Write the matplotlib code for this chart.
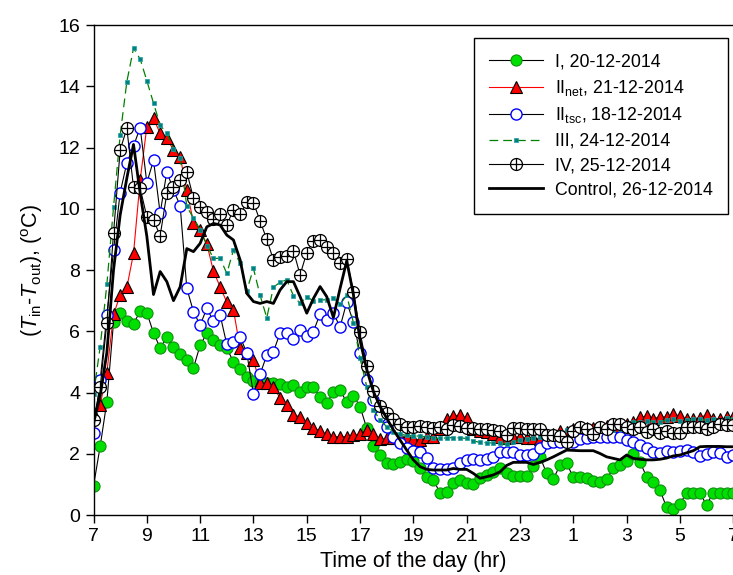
import numpy as np
import matplotlib
matplotlib.use("Agg")
import matplotlib.pyplot as plt
from matplotlib.path import Path

plt.rcParams['font.family'] = ['Liberation Sans', 'DejaVu Sans']
plt.rcParams['mathtext.fontset'] = 'custom'
plt.rcParams['mathtext.rm'] = 'Liberation Sans'
plt.rcParams['mathtext.it'] = 'Liberation Sans:italic'

# time of day (hours since midnight of first day), 15-min sampling
hours = np.arange(7, 31.01, 0.25)

series_I = [
    0.95, 2.25, 3.7, 6.3,
    6.6, 6.35, 6.25, 6.65,
    6.6, 5.95, 5.45, 5.8,
    5.5, 5.25, 5.05, 4.8,
    5.55, 5.93, 5.72, 5.55,
    5.45, 5.0, 4.78, 4.5,
    4.38, 4.3, 4.3, 4.3,
    4.28, 4.19, 4.24, 4.03,
    4.17, 4.17, 3.86, 3.65,
    4.03, 4.08, 3.68, 3.9,
    3.54, 2.83, 2.25, 1.96,
    1.69, 1.67, 1.74, 1.82,
    1.75, 1.52, 1.23, 1.15,
    0.72, 0.76, 1.03, 1.14,
    1.03, 1.01, 1.2, 1.31,
    1.41, 1.52, 1.36, 1.27,
    1.27, 1.27, 1.6, 1.9,
    1.36, 1.17, 1.63, 1.69,
    1.23, 1.25, 1.2, 1.12,
    1.09, 1.18, 1.52, 1.63,
    1.77, 1.99, 1.74, 1.25,
    1.09, 0.82, 0.25, 0.19,
    0.36, 0.73, 0.71, 0.71,
    0.33, 0.73, 0.71, 0.71,
    0.71]

series_II_net = [
    3.3, 3.6, 4.65, 6.55,
    7.18, 7.43, 8.54, 10.94,
    12.68, 12.95, 12.46, 12.3,
    11.92, 11.7, 10.6, 9.55,
    9.3, 8.85, 7.96, 7.45,
    6.95, 6.7, 5.44, 5.28,
    5.05, 4.3, 4.32, 4.18,
    3.82, 3.59, 3.27, 3.21,
    3.0, 2.85, 2.74, 2.63,
    2.56, 2.56, 2.56, 2.6,
    2.64, 2.76, 2.64, 2.47,
    2.5, 2.52, 2.55, 2.54,
    2.47, 2.45, 2.56, 2.56,
    2.8, 3.12, 3.23, 3.27,
    3.16, 2.8, 2.75, 2.7,
    2.65, 2.55, 2.5, 2.54,
    2.56, 2.5, 2.5, 2.47,
    2.55, 2.65, 2.75, 2.72,
    2.8, 2.85, 2.85, 2.85,
    2.88, 2.9, 2.9, 2.92,
    2.98, 3.05, 3.19, 3.23,
    3.15, 3.21, 3.2, 3.3,
    3.23, 3.14, 3.15, 3.18,
    3.27, 3.15, 3.12, 3.19,
    3.2]

series_II_tsc = [
    2.67, 4.41, 6.53, 8.64,
    10.53, 11.5, 12.05, 12.65,
    10.85, 11.58, 9.85, 11.21,
    10.61, 10.1, 7.4, 6.64,
    6.2, 6.75, 6.33, 6.53,
    5.57, 5.66, 5.82, 5.29,
    3.96, 4.6, 5.22, 5.33,
    5.95, 5.94, 5.76, 6.05,
    5.86, 5.99, 6.57, 6.38,
    6.59, 6.14, 6.95, 6.3,
    5.28, 4.42, 3.74, 3.24,
    2.86, 2.56, 2.34, 2.2,
    2.1, 2.05, 1.85, 1.55,
    1.5, 1.5, 1.55, 1.7,
    1.8, 1.82, 1.8, 1.82,
    1.9, 2.05, 2.07, 2.05,
    1.97, 1.97, 1.99, 2.18,
    2.36, 2.39, 2.4, 2.37,
    2.39, 2.47, 2.5, 2.54,
    2.55, 2.54, 2.56, 2.54,
    2.45, 2.39, 2.29, 2.18,
    2.07, 2.03, 2.1, 2.07,
    2.1, 2.12, 2.07, 1.93,
    2.0, 2.05, 2.01, 1.88,
    1.95]

series_III = [
    3.94, 5.5, 7.53, 10.05,
    12.41, 14.15, 15.24, 14.89,
    14.18, 13.45, 12.73, 12.47,
    11.95, 11.67, 10.08, 9.69,
    9.32, 8.8, 8.38, 8.38,
    7.89, 8.65, 8.22, 7.33,
    8.05, 7.17, 6.44, 7.44,
    7.6, 7.68, 7.16, 6.91,
    7.13, 6.99, 7.02, 7.03,
    7.1, 6.88, 7.18, 6.28,
    5.12, 4.19, 3.43, 3.11,
    2.88, 2.72, 2.64, 2.6,
    2.58, 2.58, 2.55, 2.52,
    2.5, 2.52, 2.53, 2.52,
    2.5, 2.42, 2.37, 2.36,
    2.35, 2.34, 2.32, 2.38,
    2.45, 2.48, 2.5, 2.55,
    2.6, 2.65, 2.7, 2.78,
    2.78, 2.78, 2.8, 2.8,
    2.78, 2.78, 2.78, 2.82,
    2.95, 3.05, 3.05, 3.08,
    3.05, 3.05, 3.1, 3.12,
    3.08, 3.1, 3.12, 3.12,
    3.1, 3.12, 3.1, 3.16,
    3.15]

series_IV = [
    3.1, 4.17, 6.28, 9.2,
    11.92, 12.63, 10.7, 10.67,
    9.74, 9.63, 9.12, 10.5,
    10.7, 10.93, 11.2, 10.34,
    10.06, 9.88, 9.66, 9.82,
    9.48, 9.96, 9.82, 10.21,
    10.2, 9.6, 9.0, 8.33,
    8.42, 8.46, 8.63, 7.84,
    8.57, 8.96, 8.98, 8.74,
    8.54, 8.22, 8.36, 7.29,
    5.97, 4.88, 4.05, 3.55,
    3.32, 3.12, 2.97, 2.88,
    2.86, 2.91, 2.86, 2.83,
    2.86, 2.82, 2.93, 2.9,
    2.85, 2.83, 2.82, 2.8,
    2.78, 2.75, 2.62, 2.85,
    2.85, 2.82, 2.8, 2.8,
    2.62, 2.6, 2.58, 2.39,
    2.75, 2.88, 2.82, 2.64,
    2.88, 2.82, 2.97, 2.97,
    2.88, 2.82, 2.88, 2.72,
    2.8, 2.69, 2.75, 2.67,
    2.69, 2.88, 2.88, 2.88,
    2.82, 2.86, 2.97, 2.94,
    2.95]

series_control = [
    3.0, 3.9, 5.3, 8.0,
    9.8, 11.0, 12.1, 10.5,
    9.1, 7.2, 7.95, 7.62,
    7.0, 7.45, 8.7, 8.6,
    8.87, 9.41, 9.52, 9.47,
    9.14, 8.98, 8.33, 7.24,
    6.97, 6.91, 6.97, 6.91,
    7.35, 7.62, 7.62, 7.13,
    6.59, 7.07, 7.46, 7.13,
    6.45, 7.4, 8.3, 7.2,
    5.7, 4.75, 4.03, 3.55,
    3.16, 2.78, 2.45, 2.12,
    1.8, 1.58, 1.49, 1.47,
    1.47, 1.47, 1.52, 1.49,
    1.49, 1.36, 1.2, 1.25,
    1.31, 1.41, 1.62, 1.72,
    1.72, 1.72, 1.65, 1.72,
    1.8, 1.9, 2.01, 2.12,
    2.11, 2.1, 2.1, 2.1,
    2.01, 1.9, 1.85, 1.8,
    1.96, 1.85, 1.82, 1.8,
    1.8, 1.82, 1.86, 1.93,
    1.96, 2.03, 2.1, 2.23,
    2.24, 2.24, 2.24, 2.23,
    2.23]

labels = ["I, 20-12-2014",
          r"II$_{\rm net}$, 21-12-2014",
          r"II$_{\rm tsc}$, 18-12-2014",
          "III, 24-12-2014",
          "IV, 25-12-2014",
          "Control, 26-12-2014"]

xtick_pos = [7, 9, 11, 13, 15, 17, 19, 21, 23, 25, 27, 29, 31]
xtick_labels = ["7", "9", "11", "13", "15", "17", "19", "21", "23", "1", "3", "5", "7"]

# circle-with-plus marker
circle = Path.unit_circle()
cross = Path([[-1, 0], [1, 0], [0, -1], [0, 1]],
             [Path.MOVETO, Path.LINETO, Path.MOVETO, Path.LINETO])
oplus = Path.make_compound_path(circle, cross)

fig = plt.figure(figsize=(7.33, 5.75), dpi=100)
ax = fig.add_axes([0.1276, 0.1043, 0.8727, 0.8522])

ax.plot(hours, series_I, color='black', lw=0.8, marker='o', ms=8,
        mfc='#00e000', mec='#109010', mew=0.8, label=labels[0])
ax.plot(hours, series_II_net, color='#ff0000', lw=0.8, marker='^', ms=8.2,
        mfc='#ff0000', mec='black', mew=0.8, label=labels[1])
ax.plot(hours, series_II_tsc, color='black', lw=0.8, marker='o', ms=8,
        mfc='white', mec='#0000ff', mew=1.0, label=labels[2])
ax.plot(hours, series_III, color='#008000', lw=0.9, ls=(0, (7, 4)), marker='s', ms=3.4,
        mfc='#008080', mec='#20a0a0', mew=0.5, label=labels[3])
ax.plot(hours, series_IV, color='black', lw=0.8, marker=oplus, ms=8.6,
        mfc='white', mec='black', mew=0.9, label=labels[4])
ax.plot(hours, series_control, color='black', lw=2.0, label=labels[5])

ax.set_xlim(7, 31)
ax.set_ylim(0, 16)
ax.set_yticks(np.arange(0, 17, 2))
ax.set_xticks(xtick_pos)
ax.set_xticklabels(xtick_labels)
ax.tick_params(direction='out', length=6, width=1, labelsize=14, top=False, right=False)
for s in ['left', 'bottom', 'top']:
    ax.spines[s].set_linewidth(1.0)
ax.spines['right'].set_visible(False)

ax.set_xlabel("Time of the day (hr)", fontsize=15.5, labelpad=4)
ax.set_ylabel(r"($\mathit{T}_{\rm in}$-$\mathit{T}_{\rm out}$), ($^{\rm o}$C)", fontsize=15.5, labelpad=10)

leg = ax.legend(loc='upper right', bbox_to_anchor=(0.992, 0.973), borderaxespad=0,
                fontsize=12.8, frameon=True, fancybox=False, framealpha=1,
                edgecolor='black', handlelength=3.0, handletextpad=0.7,
                labelspacing=0.42, borderpad=0.85)
leg.get_frame().set_linewidth(1.0)

fig.savefig("out.png", dpi=100)
